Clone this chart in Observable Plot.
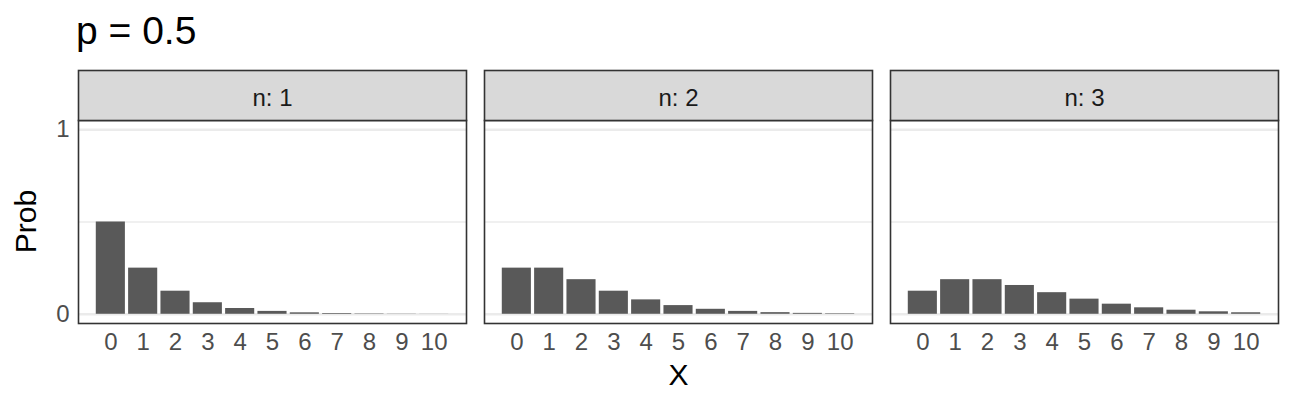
<!DOCTYPE html>
<html><head><meta charset="utf-8">
<script src="https://cdn.jsdelivr.net/npm/d3@7"></script>
<script src="https://cdn.jsdelivr.net/npm/@observablehq/plot@0.6"></script>
<style>
html,body{margin:0;padding:0;background:#fff;}
#title{height:56px;box-sizing:border-box;padding:11px 0 0 76px;font:39px/40px "Liberation Sans",Arial,sans-serif;color:#000;}
#chart svg{display:block;}
</style></head><body>
<div id="title">p = 0.5</div>
<div id="chart"></div>
<script>
// Data: negative binomial probabilities (p = 0.5)
const ns = [1, 2, 3];
const xs = [0, 1, 2, 3, 4, 5, 6, 7, 8, 9, 10];
const probN1 = [0.5, 0.25, 0.125, 0.0625, 0.03125, 0.015625, 0.0078, 0.0039, 0.002, 0.001, 0.0005];
const probN2 = [0.25, 0.25, 0.1875, 0.125, 0.078, 0.047, 0.027, 0.0156, 0.0088, 0.0049, 0.0027];
const probN3 = [0.125, 0.1875, 0.1875, 0.156, 0.117, 0.082, 0.0547, 0.035, 0.022, 0.0134, 0.0081];
const yTicks = [0, 1];
const yMinor = [0.5];
const titleText = "p = 0.5";
const xLabel = "X";
const yLabel = "Prob";

const series = {1: probN1, 2: probN2, 3: probN3};
const data = ns.flatMap(n => xs.map((x, i) => ({n, x, p: series[n][i]})));

const W = 1296, H = 354, mT = 64, mB = 87, mL = 78, mR = 17;
const frameH = H - mT - mB;
const font = "Liberation Sans, Arial, sans-serif";

const chart = Plot.plot({
  width: W, height: H,
  marginTop: mT, marginBottom: mB, marginLeft: mL, marginRight: mR,
  style: {fontFamily: font, background: "#fff", overflow: "visible"},
  fx: {domain: ns, paddingInner: 18 / 406.3, paddingOuter: 0, axis: null, label: null},
  x: {type: "band", domain: xs, paddingInner: 0.1, paddingOuter: 0.55, round: false, label: null},
  y: {domain: [-0.05, 1.05], label: null},
  marks: [
    Plot.ruleY(yMinor, {stroke: "#EBEBEB", strokeWidth: 1.35}),
    Plot.ruleY(yTicks, {stroke: "#EBEBEB", strokeWidth: 2.7}),
    Plot.barY(data, {x: "x", y: "p", fx: "n", fill: "#595959"}),
    Plot.frame({stroke: "#333333", strokeWidth: 1.6}),
    Plot.frame({fill: "#D9D9D9", stroke: "#333333", strokeWidth: 1.6, insetTop: -50, insetBottom: frameH}),
    Plot.text(ns, {fx: d => d, text: d => "n: " + d, frameAnchor: "top", dy: -22, fontSize: 24, fill: "#1A1A1A", lineAnchor: "middle"}),
    Plot.axisY(yTicks, {tickSize: 0, tickPadding: 9, fontSize: 24, color: "#4D4D4D", label: null, tickFormat: d => String(d)}),
    Plot.axisX({tickSize: 0, tickPadding: 9, fontSize: 24, color: "#4D4D4D", label: null})
  ]
});

const svg = d3.select(chart);
svg.append("text")
  .attr("transform", `translate(36,${(mT + H - mB) / 2}) rotate(-90)`)
  .attr("text-anchor", "middle")
  .attr("font-family", font).attr("font-size", 30).attr("fill", "#000")
  .text(yLabel);
svg.append("text")
  .attr("x", (mL + W - mR) / 2).attr("y", 329)
  .attr("text-anchor", "middle")
  .attr("font-family", font).attr("font-size", 30).attr("fill", "#000")
  .text(xLabel);

document.getElementById("title").textContent = titleText;
document.getElementById("chart").appendChild(chart);
</script></body></html>
